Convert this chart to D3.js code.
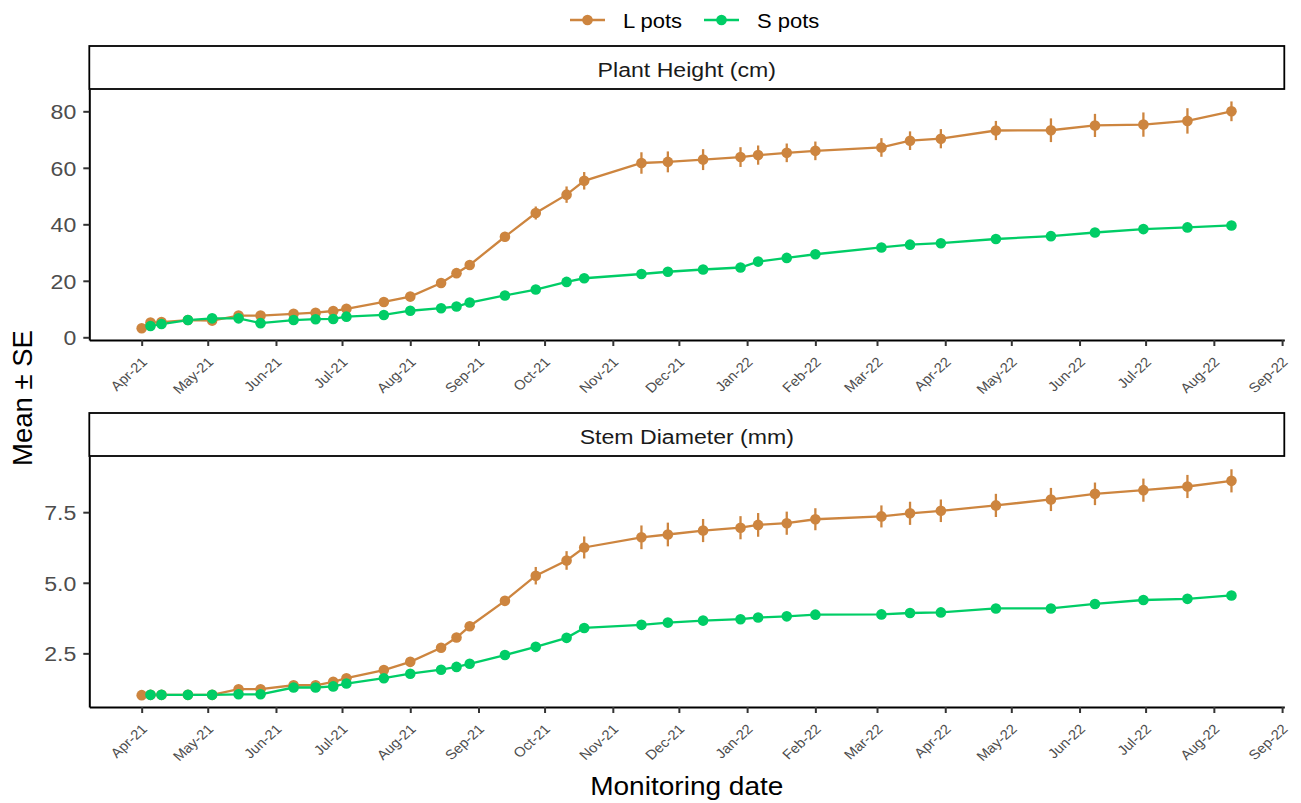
<!DOCTYPE html>
<html>
<head>
<meta charset="utf-8">
<script src="https://cdn.jsdelivr.net/npm/d3@7"></script>
<style>
  body { margin: 0; background: #fff; }
  svg { display: block; font-family: 'Liberation Sans', Arial, sans-serif; }
</style>
</head>
<body>
<svg id="chart" width="1301" height="803"></svg>
<script>
// monitoring dates (L pots measured once more at the very start)
const lDates = ['2021-04-01', '2021-04-05', '2021-04-10', '2021-04-22', '2021-05-03', '2021-05-15',
  '2021-05-25', '2021-06-09', '2021-06-19', '2021-06-27', '2021-07-03', '2021-07-20', '2021-08-01',
  '2021-08-15', '2021-08-22', '2021-08-28', '2021-09-13', '2021-09-27', '2021-10-11', '2021-10-19',
  '2021-11-14', '2021-11-26', '2021-12-12', '2021-12-29', '2022-01-06', '2022-01-19', '2022-02-01',
  '2022-03-03', '2022-03-16', '2022-03-30', '2022-04-24', '2022-05-19', '2022-06-08', '2022-06-30',
  '2022-07-20', '2022-08-09']
const sDates = lDates.slice(1)

// Plant height (cm)
const lHeight = [3.2, 5.2, 5.4, 6.1, 5.9, 7.7, 7.7, 8.3, 8.7, 9.3, 10.1, 12.5, 14.4, 19.2, 22.7, 25.6,
  35.6, 44.0, 50.5, 55.4, 61.7, 62.1, 62.9, 63.8, 64.5, 65.3, 66.0, 67.2, 69.6, 70.3, 73.2, 73.3,
  75.0, 75.3, 76.6, 80.0]
const lHeightSE = [0.3, 0.5, 0.5, 0.6, 0.6, 0.7, 0.7, 0.8, 0.8, 0.9, 0.9, 1.0, 1.1, 1.3, 1.4, 1.5,
  1.7, 2.3, 2.9, 3.1, 3.8, 3.7, 3.7, 3.5, 3.4, 3.3, 3.3, 3.3, 3.3, 3.4, 3.4, 4.2, 4.1, 4.3, 4.5, 3.5]
const sHeight = [4.0, 4.7, 6.1, 6.7, 6.7, 5.0, 6.1, 6.4, 6.5, 7.3, 7.9, 9.4, 10.3, 10.9, 12.3, 14.8,
  16.9, 19.6, 20.9, 22.4, 23.2, 24.0, 24.7, 26.8, 28.1, 29.4, 31.8, 32.8, 33.3, 34.8, 35.8, 37.1,
  38.3, 38.9, 39.6]
const sHeightSE = [0.3, 0.3, 0.4, 0.4, 0.4, 0.4, 0.4, 0.5, 0.5, 0.5, 0.5, 0.6, 0.6, 0.6, 0.7, 0.7,
  0.8, 0.8, 0.9, 0.9, 0.9, 1.0, 1.0, 1.0, 1.1, 1.1, 1.1, 1.2, 1.2, 1.2, 1.3, 1.3, 1.3, 1.4, 1.4]

// Stem diameter (mm)
const lDiam = [1.02, 1.03, 1.03, 1.03, 1.03, 1.23, 1.23, 1.37, 1.37, 1.49, 1.62, 1.91, 2.20, 2.70,
  3.06, 3.46, 4.36, 5.25, 5.79, 6.25, 6.61, 6.71, 6.85, 6.95, 7.05, 7.11, 7.25, 7.35, 7.46, 7.55,
  7.74, 7.95, 8.15, 8.28, 8.41, 8.61]
const lDiamSE = [0.02, 0.03, 0.03, 0.03, 0.03, 0.04, 0.04, 0.05, 0.05, 0.05, 0.06, 0.07, 0.08, 0.10,
  0.11, 0.12, 0.15, 0.31, 0.33, 0.39, 0.42, 0.42, 0.41, 0.41, 0.42, 0.41, 0.39, 0.39, 0.41, 0.40,
  0.41, 0.41, 0.40, 0.41, 0.41, 0.41]
const sDiam = [1.03, 1.03, 1.03, 1.03, 1.05, 1.05, 1.29, 1.29, 1.33, 1.43, 1.62, 1.78, 1.92, 2.02,
  2.13, 2.44, 2.73, 3.05, 3.40, 3.51, 3.59, 3.66, 3.71, 3.77, 3.81, 3.87, 3.88, 3.93, 3.95, 4.09,
  4.09, 4.25, 4.39, 4.43, 4.55]
const sDiamSE = [0.02, 0.02, 0.02, 0.02, 0.03, 0.03, 0.03, 0.03, 0.04, 0.04, 0.04, 0.05, 0.05, 0.05,
  0.05, 0.06, 0.06, 0.07, 0.07, 0.07, 0.07, 0.08, 0.08, 0.08, 0.08, 0.08, 0.08, 0.09, 0.09, 0.09,
  0.09, 0.10, 0.10, 0.10, 0.10]

const seriesNames = ['L pots', 'S pots']
const seriesColors = ['#CD853F', '#00CD66']
const panelTitles = ['Plant Height (cm)', 'Stem Diameter (mm)']
const yTickValues = [[0, 20, 40, 60, 80], [2.5, 5.0, 7.5]]

const parseDate = d3.utcParse('%Y-%m-%d')
const zip = (dates, vals, se) => dates.map((d, i) => ({ date: parseDate(d), v: vals[i], se: se[i] }))

const panels = [
  {
    title: panelTitles[0],
    ticks: yTickValues[0],
    fmt: d3.format('d'),
    yDomain: [-0.96, 87.9],
    top: 89,
    series: [zip(lDates, lHeight, lHeightSE), zip(sDates, sHeight, sHeightSE)],
  },
  {
    title: panelTitles[1],
    ticks: yTickValues[1],
    fmt: d3.format('.1f'),
    yDomain: [0.6, 9.49],
    top: 456,
    series: [zip(lDates, lDiam, lDiamSE), zip(sDates, sDiam, sDiamSE)],
  },
]

const left = 89.3
const right = 1284.3
const panelH = 251
const stripH = 43
const sx = 1.1 // text in the original is a little wider than Liberation Sans
const tickGrey = '#4d4d4d'
const lineW = 2.3
const pointR = 5.3

const svg = d3.select('#chart')

const x = d3
  .scaleUtc()
  .domain([new Date(Date.UTC(2021, 2, 8, 5)), new Date(Date.UTC(2022, 8, 2))])
  .range([left, right])

const monthTicks = d3.utcMonth.range(new Date(Date.UTC(2021, 3, 1)), new Date(Date.UTC(2022, 8, 2)))

panels.forEach((p) => {
  const y = d3.scaleLinear().domain(p.yDomain).range([p.top + panelH, p.top])
  const g = svg.append('g')

  // strip
  g.append('rect')
    .attr('x', left)
    .attr('y', p.top - stripH)
    .attr('width', right - left)
    .attr('height', stripH)
    .attr('fill', '#fff')
    .attr('stroke', '#000')
    .attr('stroke-width', 1.8)
  g.append('text')
    .attr('transform', `translate(${(left + right) / 2},${p.top - 12.5}) scale(${sx},1)`)
    .attr('text-anchor', 'middle')
    .attr('font-size', 21)
    .attr('fill', '#1a1a1a')
    .text(p.title)

  // y axis
  const yAxis = g
    .append('g')
    .attr('transform', `translate(${left},0)`)
    .call(d3.axisLeft(y).tickValues(p.ticks).tickFormat(p.fmt).tickSize(6).tickSizeOuter(0))
  yAxis.select('.domain').attr('stroke', '#000').attr('stroke-width', 2)
  yAxis.selectAll('.tick line').attr('stroke', '#333').attr('stroke-width', 2)
  yAxis
    .selectAll('.tick text')
    .attr('x', null)
    .attr('dy', null)
    .attr('transform', `translate(-13,7.5) scale(${sx},1)`)
    .attr('font-size', 21)
    .attr('font-family', null)
    .attr('fill', tickGrey)

  // x axis
  const xAxis = g
    .append('g')
    .attr('transform', `translate(0,${p.top + panelH})`)
    .call(d3.axisBottom(x).tickValues(monthTicks).tickFormat(d3.utcFormat('%b-%y')).tickSize(6).tickSizeOuter(0))
  xAxis.select('.domain').attr('stroke', '#000').attr('stroke-width', 2)
  xAxis.selectAll('.tick line').attr('stroke', '#333').attr('stroke-width', 2)
  xAxis
    .selectAll('.tick text')
    .attr('y', null)
    .attr('dy', null)
    .attr('text-anchor', 'end')
    .attr('transform', `translate(6,23) scale(${sx},1) rotate(-45)`)
    .attr('font-size', 13.5)
    .attr('font-family', null)
    .attr('fill', tickGrey)

  const line = d3
    .line()
    .x((d) => x(d.date))
    .y((d) => y(d.v))

  p.series.forEach((data, i) => {
    g.append('g')
      .selectAll('line')
      .data(data)
      .enter()
      .append('line')
      .attr('x1', (d) => x(d.date))
      .attr('x2', (d) => x(d.date))
      .attr('y1', (d) => y(d.v - d.se))
      .attr('y2', (d) => y(d.v + d.se))
      .attr('stroke', seriesColors[i])
      .attr('stroke-width', lineW)
  })

  p.series.forEach((data, i) => {
    g.append('path').datum(data).attr('d', line).attr('fill', 'none').attr('stroke', seriesColors[i]).attr('stroke-width', lineW)
  })

  p.series.forEach((data, i) => {
    g.append('g')
      .selectAll('circle')
      .data(data)
      .enter()
      .append('circle')
      .attr('cx', (d) => x(d.date))
      .attr('cy', (d) => y(d.v))
      .attr('r', pointR)
      .attr('fill', seriesColors[i])
  })
})

// legend
const legendX = [570, 704]
const legend = svg.append('g')
seriesNames.forEach((name, i) => {
  const lx = legendX[i]
  legend.append('line').attr('x1', lx).attr('x2', lx + 35).attr('y1', 20).attr('y2', 20).attr('stroke', seriesColors[i]).attr('stroke-width', lineW)
  legend.append('circle').attr('cx', lx + 17.5).attr('cy', 20).attr('r', pointR).attr('fill', seriesColors[i])
  legend
    .append('text')
    .attr('transform', `translate(${lx + 53},27.5) scale(${sx},1)`)
    .attr('font-size', 20)
    .attr('fill', '#000')
    .text(name)
})

// axis titles
svg.append('text')
  .attr('transform', `translate(${(left + right) / 2},795) scale(${sx},1)`)
  .attr('text-anchor', 'middle')
  .attr('font-size', 25.5)
  .attr('fill', '#000')
  .text('Monitoring date')

svg.append('text')
  .attr('transform', 'translate(32,398) rotate(-90)')
  .attr('text-anchor', 'middle')
  .attr('font-size', 27.5)
  .attr('fill', '#000')
  .text('Mean ± SE')
</script>
</body>
</html>
